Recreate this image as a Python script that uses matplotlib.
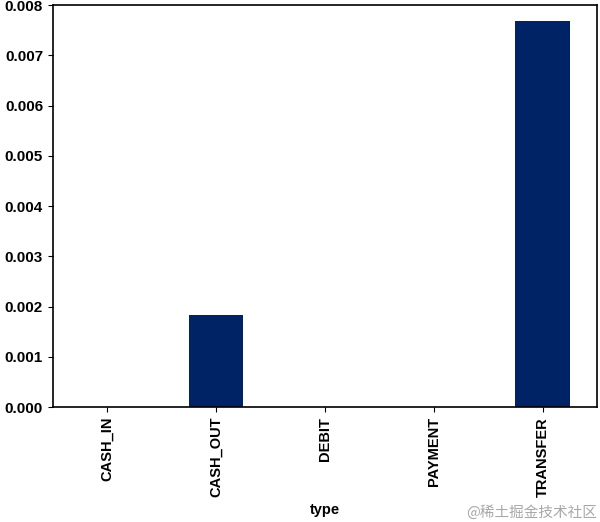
import matplotlib.pyplot as plt

plt.rcParams['font.family'] = ['Liberation Sans', 'DejaVu Sans', 'Noto Sans CJK SC']
plt.rcParams['font.weight'] = 'bold'

types = ['CASH_IN', 'CASH_OUT', 'DEBIT', 'PAYMENT', 'TRANSFER']
fraud_rate = [0.0, 0.00184, 0.0, 0.0, 0.00769]

fig, ax = plt.subplots(figsize=(6, 5.22), dpi=100)
x = range(len(types))
ax.bar(x, fraud_rate, width=0.5, color='#002366')
ax.set_xticks(list(x))
ax.set_xticklabels(types, rotation=90, fontsize=10.5, fontweight='bold')
ax.set_xlim(-0.5, len(types) - 0.5)
ax.set_ylim(0, 0.008)
ax.set_yticks([i * 0.001 for i in range(9)])
ax.set_yticklabels([f'{i * 0.001:.3f}' for i in range(9)], fontsize=11, fontweight='bold')
ax.set_xlabel('type', fontsize=10.5, fontweight='bold')
for s in ax.spines.values():
    s.set_linewidth(1.2)

plt.subplots_adjust(left=0.088, right=0.995, top=0.99, bottom=0.22)
fig.text(0.995, 0.005, '@稀土掘金技术社区', ha='right', va='bottom', color='#a8a8a8',
         fontsize=10.5, family=['Noto Sans CJK SC', 'DejaVu Sans'], fontweight='normal')
plt.savefig('out.png', dpi=100)
